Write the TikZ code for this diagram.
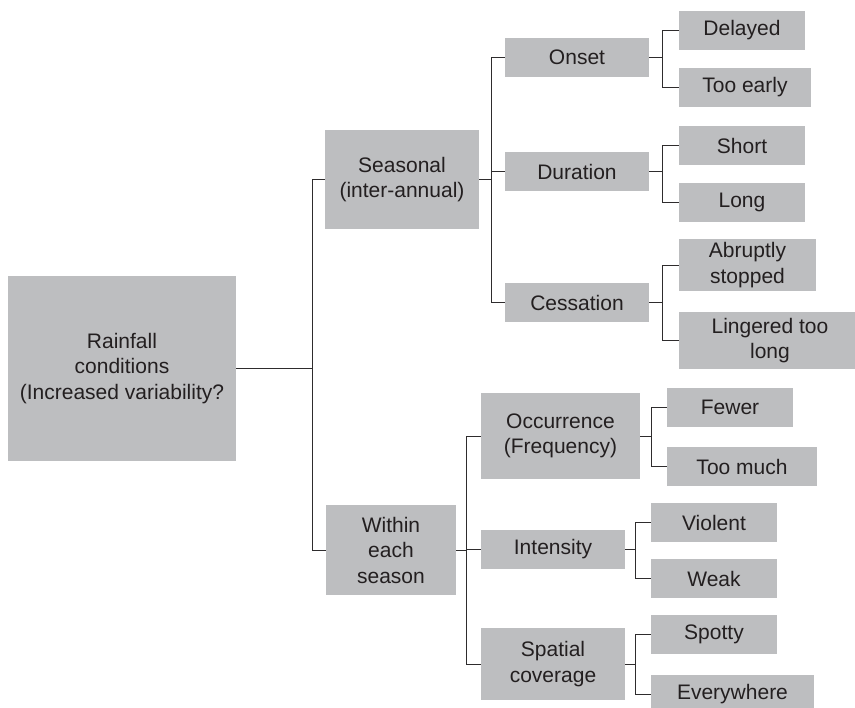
\documentclass[tikz,border=0pt]{standalone}
\usepackage{fontspec}
\setmainfont{Liberation Sans}
\definecolor{boxgray}{HTML}{BDBEC0}
\definecolor{txt}{HTML}{231F20}
\definecolor{linec}{HTML}{2E2C2D}
\begin{document}
\begin{tikzpicture}[x=1pt,y=-1pt,
  bx/.style 2 args={fill=boxgray, draw=none, inner sep=0pt, align=center,
    text=txt, minimum width=#1, minimum height=#2,
    font=\fontsize{21}{25.5}\selectfont},
  conn/.style={draw=linec, line width=0.9pt}]
\useasboundingbox (0,0) rectangle (855,708);

\node[bx={228}{185}] (root) at (122,368.5) {Rainfall\\conditions\\(Increased variability?};
\node[bx={154}{99}] (seasonal) at (402,179.5) {Seasonal\\(inter-annual)};
\node[bx={130}{90}] (within) at (391,550) {Within\\each\\season};

\node[bx={144}{39}] (onset) at (577,57.5) {Onset};
\node[bx={144}{39}] (duration) at (577,171.5) {Duration};
\node[bx={144}{39}] (cessation) at (577,302.5) {Cessation};

\node[bx={126}{39}] (delayed) at (742,30.5) {Delayed};
\node[bx={132}{39}] (tooearly) at (745,87.5) {Too early};
\node[bx={126}{39}] (short) at (742,145.5) {Short};
\node[bx={126}{39}] (long) at (742,202.5) {Long};
\node[bx={137}{52}] (abrupt) at (747.5,265) {Abruptly\\stopped};
\node[bx={182}{57}] (linger) at (770,340.5) {Lingered too\\long};

\node[bx={159}{86}] (occur) at (560.5,436) {Occurrence\\(Frequency)};
\node[bx={144}{39}] (intens) at (553,549.5) {Intensity};
\node[bx={144}{72}] (spatial) at (553,664) {Spatial\\coverage};

\node[bx={126}{39}] (fewer) at (730,407.5) {Fewer};
\node[bx={150}{39}] (toomuch) at (742,466.5) {Too much};
\node[bx={126}{39}] (violent) at (714,522.5) {Violent};
\node[bx={126}{39}] (weak) at (714,578.5) {Weak};
\node[bx={126}{39}] (spotty) at (714,634.5) {Spotty};
\node[bx={163}{39}] (everywhere) at (732.5,694.5) {Everywhere};

% root level
\draw[conn] (root.east) -- ++(76,0) coordinate (b0) |- (seasonal.west);
\draw[conn] (b0) |- (within.west);

% seasonal
\draw[conn] (seasonal.east) -- ++(12.7,0) coordinate (b1) |- (onset.west);
\draw[conn] (b1) |- (duration.west);
\draw[conn] (b1) |- (cessation.west);

\draw[conn] (onset.east) -- ++(13.7,0) coordinate (b2) |- (delayed.west);
\draw[conn] (b2) |- (tooearly.west);
\draw[conn] (duration.east) -- ++(13.7,0) coordinate (b3) |- (short.west);
\draw[conn] (b3) |- (long.west);
\draw[conn] (cessation.east) -- ++(13.7,0) coordinate (b4) |- (abrupt.west);
\draw[conn] (b4) |- (linger.west);

% within
\draw[conn] (within.east) -- ++(10.7,0) coordinate (b5) |- (occur.west);
\draw[conn] (b5) |- (intens.west);
\draw[conn] (b5) |- (spatial.west);

\draw[conn] (occur.east) -- ++(11,0) coordinate (b6) |- (fewer.west);
\draw[conn] (b6) |- (toomuch.west);
\draw[conn] (intens.east) -- ++(10.3,0) coordinate (b7) |- (violent.west);
\draw[conn] (b7) |- (weak.west);
\draw[conn] (spatial.east) -- ++(10.3,0) coordinate (b8) |- (spotty.west);
\draw[conn] (b8) |- (everywhere.west);
\end{tikzpicture}
\end{document}
